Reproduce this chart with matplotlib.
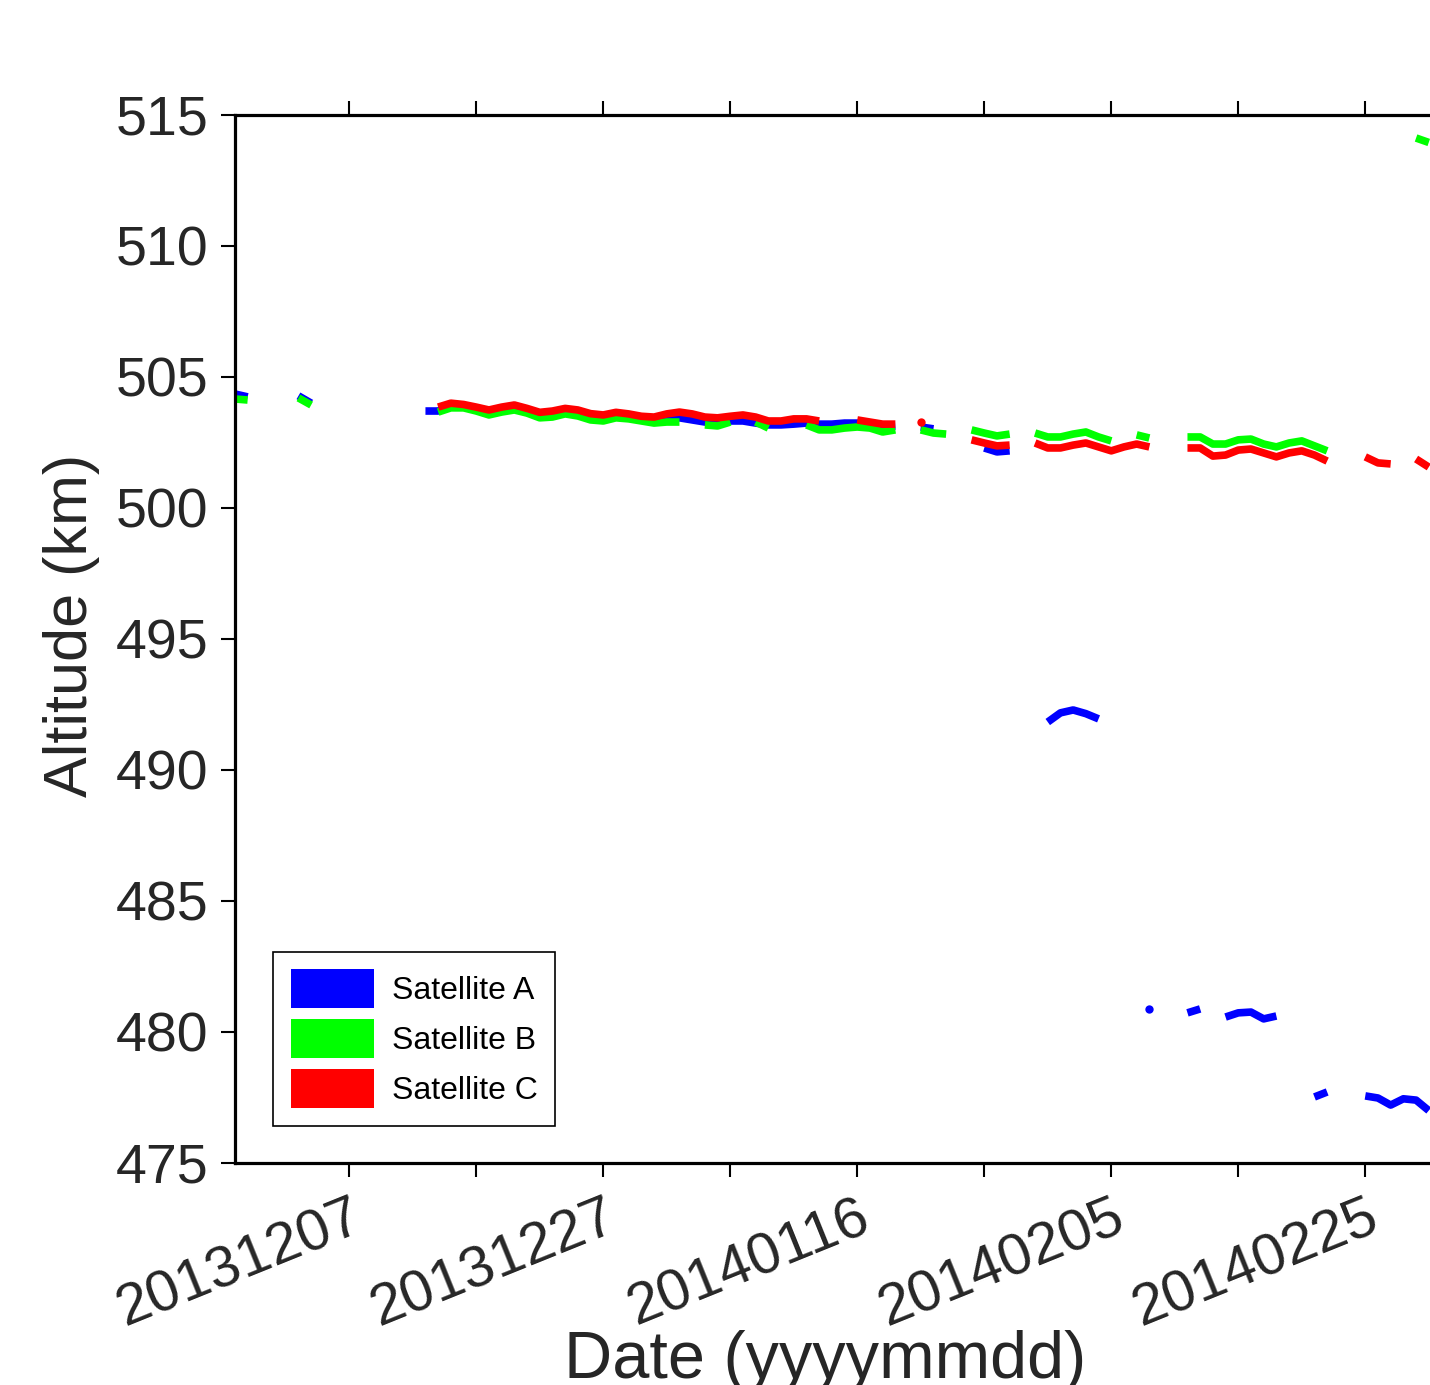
import numpy as np
import pandas as pd
import matplotlib
matplotlib.use('Agg')
from matplotlib import pyplot as plt
from matplotlib.patches import Patch

plt.rcParams['font.family'] = ['Liberation Sans', 'DejaVu Sans']

nan = np.nan

# daily values starting 2013-11-28, NaN where no data
dates = pd.date_range('2013-11-28', periods=95, freq='D')

sat_a = [504.35, 504.24, nan, nan, nan, 504.28, 504.0,
         nan, nan, nan, nan, nan, nan, nan, nan,
         503.7, 503.7, 503.9, 503.9, 503.78, 503.68, 503.78, 503.86, 503.74, 503.58,
         503.62, 503.72, 503.66, 503.52, 503.47, 503.56, 503.5, 503.42, 503.38, 503.48,
         503.44, 503.36, 503.28, 503.24, 503.32, 503.32, 503.24, 503.17, 503.17, 503.2,
         503.24, 503.2, 503.2, 503.24, 503.24, 503.17, 503.09, 503.13, nan, 503.09,
         503.02, nan, nan, nan, 502.29, 502.14, 502.18, nan, nan, 491.83,
         492.18, 492.29, 492.15, 491.95, nan, nan, nan, 480.88, nan, nan,
         480.73, 480.88, nan, 480.57, 480.73, 480.76, 480.5, 480.61, nan, nan,
         477.52, 477.71, nan, nan, 477.56, 477.48, 477.21, 477.45, 477.4, 477.0]

sat_b = [504.16, 504.12, nan, nan, nan, 504.2, 503.93,
         nan, nan, nan, nan, nan, nan, nan, nan, nan,
         503.66, 503.82, 503.82, 503.7, 503.55, 503.66, 503.74, 503.62, 503.44,
         503.47, 503.59, 503.51, 503.36, 503.32, 503.44, 503.4, 503.32, 503.24, 503.28,
         503.28, nan, 503.17, 503.13, 503.28, nan, 503.28, 503.05, nan, nan,
         503.17, 502.98, 502.98, 503.05, 503.09, 503.05, 502.9, 502.98, nan, 502.98,
         502.86, 502.82, nan, 502.98, 502.86, 502.75, 502.82, nan, 502.86, 502.71,
         502.71, 502.82, 502.9, 502.71, 502.56, nan, 502.79, 502.67, nan, nan,
         502.71, 502.71, 502.44, 502.44, 502.6, 502.63, 502.44, 502.33, 502.48, 502.56,
         502.37, 502.18, nan, nan, nan, nan, nan, nan, 514.12, 513.95]

sat_c = [nan] * 16 + [
         503.85, 504.0, 503.95, 503.85, 503.74, 503.85, 503.93, 503.8, 503.65,
         503.7, 503.8, 503.74, 503.6, 503.55, 503.65, 503.59, 503.5, 503.47, 503.59,
         503.66, 503.59, 503.47, 503.44, 503.5, 503.55, 503.47, 503.32, 503.32, 503.4,
         503.4, 503.32, nan, nan, 503.36, 503.28, 503.2, 503.2, nan, 503.28,
         nan, nan, nan, 502.6, 502.48, 502.37, 502.4, nan, 502.48, 502.29,
         502.29, 502.4, 502.48, 502.33, 502.18, 502.33, 502.44, 502.33, nan, nan,
         502.29, 502.29, 501.98, 502.02, 502.21, 502.25, 502.1, 501.95, 502.1, 502.18,
         502.02, 501.79, nan, nan, 501.95, 501.72, 501.68, nan, 501.87, 501.56]

names = ['Satellite A', 'Satellite B', 'Satellite C']
colors = ['#0000ff', '#00ff00', '#ff0000']
yticks = [475, 480, 485, 490, 495, 500, 505, 510, 515]

fig = plt.figure(figsize=(14.3, 13.85), dpi=100)
ax = fig.add_axes([0.1643, 0.1603, 0.8526, 0.7567])

for vals, c in zip([sat_a, sat_b, sat_c], colors):
    v = np.array(vals)
    ax.plot(dates, v, color=c, lw=5.5, solid_capstyle='butt')
    # single points between gaps
    ok = ~np.isnan(v)
    prev = np.r_[False, ok[:-1]]
    nxt = np.r_[ok[1:], False]
    lone = ok & ~prev & ~nxt
    ax.plot(dates[lone], v[lone], 'o', color=c, ms=6, mew=0)

ax.set_yticks(yticks)
xt = pd.date_range('2013-12-07', '2014-03-07', freq='10D')
ax.set_xticks(xt)
ax.set_xticklabels([d.strftime('%Y%m%d') if i % 2 == 0 else '' for i, d in enumerate(xt)],
                   rotation=22, ha='right', va='top', rotation_mode='anchor')
ax.set_xlim(dates[0], dates[0] + pd.Timedelta(days=96))
ax.set_ylim(475, 515)

ax.tick_params(axis='both', direction='out', length=10, width=1.5, labelcolor='#262626')
ax.tick_params(axis='x', top=True, pad=10, labelsize=42)
ax.tick_params(axis='y', pad=9, labelsize=40)
for s in ax.spines.values():
    s.set_linewidth(2.3)

ax.set_ylabel('Altitude (km)', fontsize=44, color='#262626')
ax.yaxis.set_label_coords(-0.111, 0.513)
ax.set_xlabel('Date (yyyymmdd)', fontsize=48, color='#262626')
ax.xaxis.set_label_coords(0.484, -0.159)

handles = [Patch(facecolor=c, edgecolor='none') for c in colors]
leg = ax.legend(handles, names, loc='lower left', bbox_to_anchor=(0.0312, 0.0353),
                borderaxespad=0, fontsize=23, handlelength=2.6, handleheight=1.5,
                handletextpad=0.56, labelspacing=0.35, borderpad=0.55,
                fancybox=False, edgecolor='black', framealpha=1)
leg.get_frame().set_linewidth(1.2)

fig.savefig('out.png', dpi=100)
